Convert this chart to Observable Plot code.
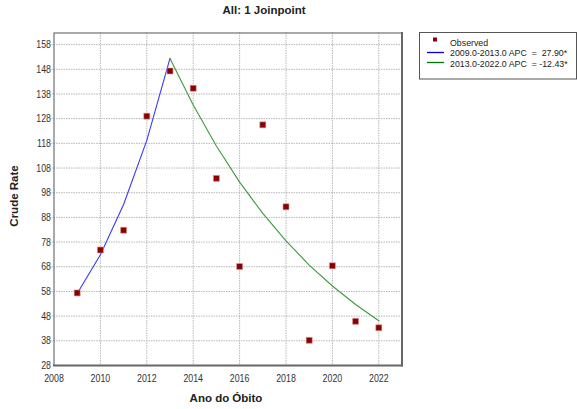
<!DOCTYPE html>
<html>
<head>
<meta charset="utf-8">
<script src="https://cdn.jsdelivr.net/npm/d3@7"></script>
<script src="https://cdn.jsdelivr.net/npm/@observablehq/plot@0.6"></script>
<style>
  html, body { margin: 0; padding: 0; background: #fff; }
  #chart { width: 577px; height: 409px; }
</style>
</head>
<body>
<div id="chart"></div>
<script>
// ---- data ----
const years = [2009, 2010, 2011, 2012, 2013, 2014, 2015, 2016, 2017, 2018, 2019, 2020, 2021, 2022];
const observed = [57.4, 74.8, 82.8, 129.0, 147.3, 140.3, 103.8, 68.1, 125.5, 92.3, 38.2, 68.4, 45.9, 43.3];

const seg1Years = [2009, 2010, 2011, 2012, 2013];
const seg1Values = [57.2, 72.9, 93.2, 119.2, 152.4];
const seg2Years = [2013, 2014, 2015, 2016, 2017, 2018, 2019, 2020, 2021, 2022];
const seg2Values = [152.4, 133.5, 116.9, 102.3, 89.6, 78.5, 68.7, 60.2, 52.7, 46.1];

const xTicks = [2008, 2010, 2012, 2014, 2016, 2018, 2020, 2022];
const yTicks = [28, 38, 48, 58, 68, 78, 88, 98, 108, 118, 128, 138, 148, 158];

const titleText = "All: 1 Joinpoint";
const xLabel = "Ano do Óbito";
const yLabel = "Crude Rate";
const legendLabels = ["Observed", "2009.0-2013.0 APC  =  27.90*", "2013.0-2022.0 APC  = -12.43*"];
const colors = { observed: "#8b0000", seg1: "#3a3aff", seg2: "#3c9a3c" };

// ---- tables ----
const obsData = years.map((y, i) => ({ year: y, value: observed[i] }));
const seg1 = seg1Years.map((y, i) => ({ year: y, value: seg1Values[i] }));
const seg2 = seg2Years.map((y, i) => ({ year: y, value: seg2Values[i] }));

const W = 577, H = 409;
const mL = 53.5, mR = 175.5, mT = 32.5, mB = 44;
const sans = "'Liberation Sans', Arial, sans-serif";

const chart = Plot.plot({
  width: W,
  height: H,
  marginLeft: mL,
  marginRight: mR,
  marginTop: mT,
  marginBottom: mB,
  style: { fontFamily: sans, fontSize: "11px", color: "#333", background: "#fff", overflow: "visible" },
  x: { domain: [2008, 2023], label: null },
  y: { domain: [28, 162.7], label: null },
  marks: [
    Plot.gridX(xTicks.filter(t => t > 2008), { stroke: "#b8b8b8", strokeOpacity: 1, strokeDasharray: "1.5,1" }),
    Plot.gridY(yTicks.filter(t => t > 28), { stroke: "#b8b8b8", strokeOpacity: 1, strokeDasharray: "1.5,1" }),
    Plot.frame({ stroke: "#555", strokeWidth: 1 }),
    Plot.frame({ anchor: "bottom", stroke: "#666", strokeWidth: 2 }),
    Plot.frame({ anchor: "right", stroke: "#666", strokeWidth: 2 }),
    Plot.line(seg1, { x: "year", y: "value", stroke: colors.seg1, strokeWidth: 1.1 }),
    Plot.line(seg2, { x: "year", y: "value", stroke: colors.seg2, strokeWidth: 1.1 }),
    Plot.dot(obsData, { x: "year", y: "value", symbol: "square", r: 3.4, fill: colors.observed, stroke: "#d9a0a0", strokeWidth: 0.6 }),
    Plot.axisX({ ticks: xTicks, tickFormat: d => String(d), tickSize: 0, tickPadding: 9, label: null }),
    Plot.axisY({ ticks: yTicks.filter(t => t > 28), tickSize: 3, tickPadding: 0, stroke: "#aaa", strokeDasharray: "1,1", label: null }),
    Plot.axisY({ ticks: [28], tickSize: 0, tickPadding: 3, label: null })
  ]
});

document.getElementById("chart").appendChild(chart);

const svg = d3.select(chart);

// narrow the tick labels (mimic a condensed UI font)
svg.selectAll("g[aria-label='x-axis tick label'] text, g[aria-label='y-axis tick label'] text").each(function () {
  const len = this.getComputedTextLength();
  if (len > 0) {
    this.setAttribute("textLength", (len * 0.8).toFixed(1));
    this.setAttribute("lengthAdjust", "spacingAndGlyphs");
  }
});

// ---- titles & legend ----
svg.append("text")
  .attr("x", 264).attr("y", 14)
  .attr("text-anchor", "middle")
  .attr("font-family", sans).attr("font-weight", "bold").attr("font-size", "11.5px")
  .attr("fill", "#222")
  .text(titleText);

svg.append("text")
  .attr("x", 226).attr("y", 402)
  .attr("text-anchor", "middle")
  .attr("font-family", sans).attr("font-weight", "bold").attr("font-size", "11.5px")
  .attr("fill", "#222")
  .text(xLabel);

svg.append("text")
  .attr("transform", "translate(18,196) rotate(-90)")
  .attr("text-anchor", "middle")
  .attr("font-family", sans).attr("font-weight", "bold").attr("font-size", "11.5px")
  .attr("fill", "#222")
  .text(yLabel);

const lg = svg.append("g");
lg.append("rect")
  .attr("x", 419.5).attr("y", 32.5).attr("width", 157).attr("height", 46.5)
  .attr("fill", "#fff").attr("stroke", "#555").attr("stroke-width", 1);
lg.append("rect")
  .attr("x", 433).attr("y", 37.5).attr("width", 4).attr("height", 4)
  .attr("fill", colors.observed);
lg.append("line").attr("x1", 427).attr("x2", 444).attr("y1", 52.5).attr("y2", 52.5)
  .attr("stroke", "#0000e0").attr("stroke-width", 1.3);
lg.append("line").attr("x1", 427).attr("x2", 444).attr("y1", 62.5).attr("y2", 62.5)
  .attr("stroke", "#007a00").attr("stroke-width", 1.3);
[45.5, 56, 66.5].forEach((y, i) => {
  lg.append("text")
    .attr("x", 450).attr("y", y)
    .attr("text-anchor", "start")
    .attr("font-family", sans).attr("font-size", "8.8px")
    .attr("fill", "#222")
    .attr("xml:space", "preserve")
    .style("white-space", "pre")
    .text(legendLabels[i]);
});
</script>
</body>
</html>
